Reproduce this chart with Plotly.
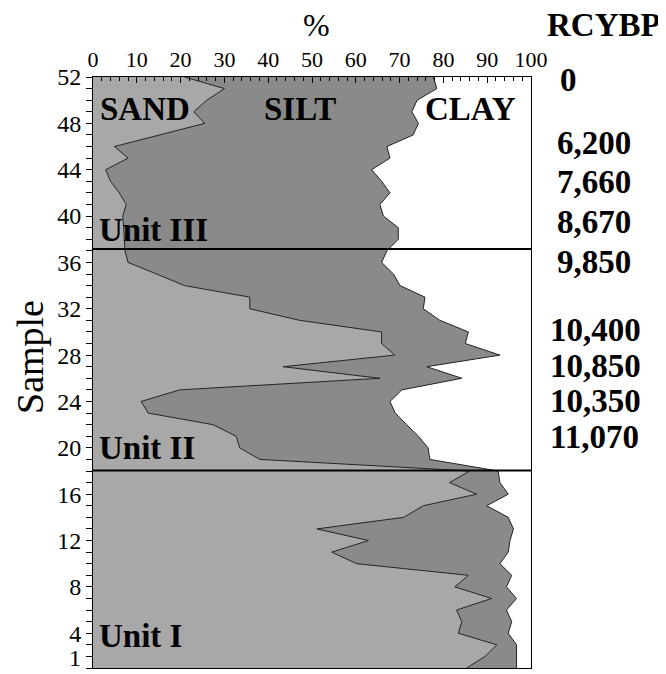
import plotly.graph_objects as go

# ---- data ----
samples = list(range(1, 53))
sand = [85.3, 89.5, 92.2, 83.4, 84.2, 83.0, 91.0, 82.6, 85.7, 60.2,
        54.5, 62.9, 51.1, 70.9, 75.4, 87.6, 81.4, 86.0, 38.1, 33.5,
        32.7, 27.4, 12.6, 11.0, 19.8, 65.5, 43.4, 68.9, 65.9, 65.9,
        47.2, 35.8, 35.8, 20.9, 14.5, 8.0, 7.3, 7.2, 7.0, 6.8,
        7.6, 6.0, 4.0, 2.9, 8.0, 4.9, 15.0, 25.5, 23.0, 26.0,
        30.0, 20.9]
sand_silt = [96.7, 96.7, 96.7, 94.8, 95.6, 94.4, 96.7, 94.4, 95.6, 92.9,
             94.8, 95.2, 96.0, 94.8, 89.9, 94.8, 92.9, 92.5, 76.9, 76.5,
             74.3, 71.6, 69.0, 67.8, 70.5, 84.2, 76.2, 92.9, 85.0, 85.7,
             79.2, 75.4, 75.8, 70.1, 68.6, 65.9, 67.1, 69.7, 69.7, 66.3,
             65.5, 67.8, 65.9, 63.6, 67.8, 67.1, 73.1, 74.3, 72.8, 74.0,
             78.5, 77.7]
unit_bounds = [18.05, 37.15]
unit_labels = ["Unit I", "Unit II", "Unit III"]
unit_label_y = [3.8, 20.0, 38.8]
fraction_labels = ["SAND", "SILT", "CLAY"]
fraction_label_x = [11.9, 47.3, 86.1]
dates = ["0", "6,200", "7,660", "8,670", "9,850", "10,400", "10,850", "10,350", "11,070"]
date_samples = [51.7, 46.3, 42.9, 39.5, 36.0, 30.2, 27.1, 24.0, 20.9]
y_ticks = [1, 4, 8, 12, 16, 20, 24, 28, 32, 36, 40, 44, 48, 52]

SERIF = "Liberation Serif"
OFF = 8  # default page body margin
W, H = 666 - OFF, 674 - OFF
L, R, T, B = 93 - OFF, 135, 77 - OFF, 6
PW = W - L - R
PH = H - T - B


def px_x(px):
    return (px - OFF - L) / PW


def px_y(py):
    return 1 - (py - OFF - T) / PH


fig = go.Figure()
fig.add_trace(go.Scatter(x=sand, y=samples, mode="lines", fill="tozerox",
                         fillcolor="#a8a8a8", line=dict(color="#222222", width=1),
                         hoverinfo="skip", showlegend=False))
fig.add_trace(go.Scatter(x=sand_silt, y=samples, mode="lines", fill="tonextx",
                         fillcolor="#8a8a8a", line=dict(color="#222222", width=1),
                         hoverinfo="skip", showlegend=False))

for yb in unit_bounds:
    fig.add_shape(type="line", xref="x", yref="y", x0=0, x1=100, y0=yb, y1=yb,
                  line=dict(color="black", width=2))

annotations = []
for lab, xx in zip(fraction_labels, fraction_label_x):
    annotations.append(dict(x=xx, y=49.2, xref="x", yref="y", text=f"<b>{lab}</b>",
                            showarrow=False, font=dict(family=SERIF, size=33, color="black"),
                            xanchor="center", yanchor="middle"))
for lab, yy in zip(unit_labels, unit_label_y):
    annotations.append(dict(x=0.8, y=yy, xref="x", yref="y", text=f"<b>{lab}</b>",
                            showarrow=False, font=dict(family=SERIF, size=33, color="black"),
                            xanchor="left", yanchor="middle"))
for lab, yy in zip(dates, date_samples):
    xpx = 548 if len(lab) > 5 else (558 if len(lab) == 1 else 555)
    annotations.append(dict(x=px_x(xpx), y=yy, xref="paper", yref="y",
                            text=f"<b>{lab}</b>", showarrow=False,
                            font=dict(family=SERIF, size=33, color="black"),
                            xanchor="left", yanchor="middle"))
annotations.append(dict(x=px_x(316), y=px_y(25), xref="paper", yref="paper",
                        text="%", showarrow=False,
                        font=dict(family=SERIF, size=32, color="black"),
                        xanchor="center", yanchor="middle"))
annotations.append(dict(x=px_x(545), y=px_y(25), xref="paper", yref="paper",
                        text="<b>RCYBP</b>", showarrow=False,
                        font=dict(family=SERIF, size=33, color="black"),
                        xanchor="left", yanchor="middle"))
annotations.append(dict(x=px_x(30), y=px_y(357), xref="paper", yref="paper",
                        text="Sample", showarrow=False, textangle=-90,
                        font=dict(family=SERIF, size=38, color="black"),
                        xanchor="center", yanchor="middle"))
# lowest tick label, lifted slightly so it stays inside the page
annotations.append(dict(x=px_x(83), y=px_y(673), xref="paper", yref="paper",
                        text=str(y_ticks[0]), showarrow=False,
                        font=dict(family=SERIF, size=24, color="black"),
                        xanchor="right", yanchor="bottom"))

fig.update_layout(
    width=W, height=H,
    margin=dict(l=L, r=R, t=T, b=B, autoexpand=False),
    paper_bgcolor="white", plot_bgcolor="white",
    font=dict(family=SERIF, color="black"),
    annotations=annotations,
    showlegend=False,
)
fig.update_xaxes(range=[0, 100], side="top", tickmode="linear", tick0=0, dtick=10,
                 ticks="inside", ticklen=6, tickcolor="black",
                 minor=dict(dtick=2, ticks="inside", ticklen=4, tickcolor="black"),
                 showline=True, linecolor="black", linewidth=1, mirror=True,
                 showgrid=False, zeroline=False, automargin=False,
                 tickfont=dict(family=SERIF, size=22, color="black"))
fig.update_yaxes(range=[1, 52], tickmode="array", tickvals=y_ticks,
                 ticktext=[""] + [str(v) for v in y_ticks[1:]],
                 ticks="outside", ticklen=6, tickcolor="black",
                 minor=dict(tickmode="linear", tick0=1, dtick=1, ticks="outside", ticklen=6, tickcolor="black"),
                 showline=True, linecolor="black", linewidth=1, mirror=True,
                 showgrid=False, zeroline=False, automargin=False,
                 tickfont=dict(family=SERIF, size=24, color="black"))

fig.write_html("out.html")
